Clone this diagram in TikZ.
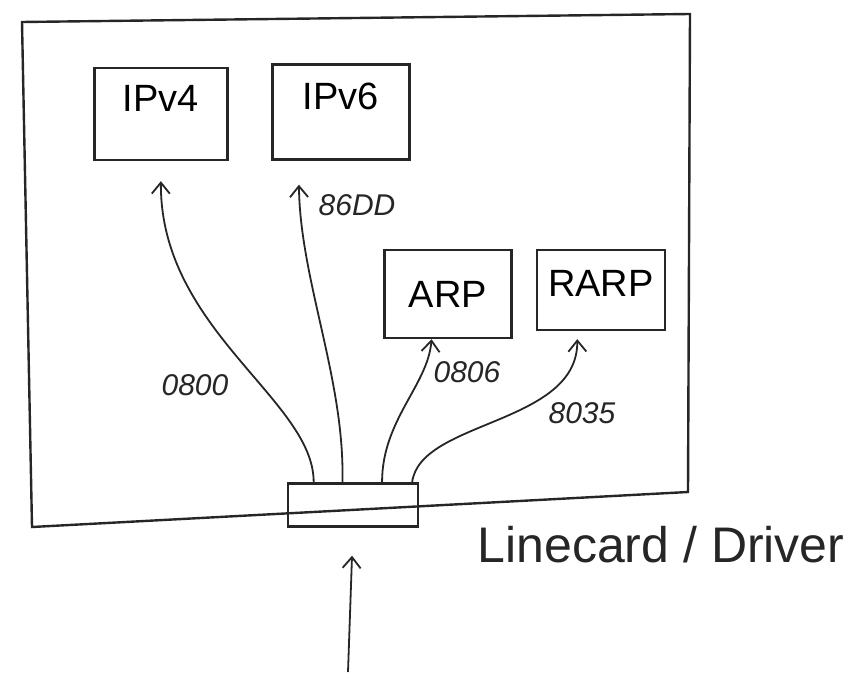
\documentclass[tikz,border=0pt]{standalone}
\usepackage{fontspec}
\setmainfont{Liberation Sans}
\usetikzlibrary{arrows.meta}
\begin{document}
\begin{tikzpicture}[x=1pt,y=-1pt,
  ink/.style={draw=black!85, line width=2.4pt},
  box/.style={ink, rectangle, font=\fontsize{38}{40}\selectfont},
  lbl/.style={font=\itshape\fontsize{30}{32}\selectfont, text=black!85},
  conn/.style={ink, line width=1.8pt, -{Straight Barb[length=11pt,width=18pt]}}]
\useasboundingbox (0,0) rectangle (868,687);
% outer frame
\draw[ink] (22,22) -- (690,14) -- (688,492) -- (32,527) -- cycle;
% protocol boxes
\node[box, minimum width=133, minimum height=92, text height=26pt, text depth=30pt] (ipv4) at (161,114) {IPv4};
\node[box, minimum width=137, minimum height=95, text height=26pt, text depth=30pt] (ipv6) at (341,112) {IPv6};
\node[box, minimum width=127, minimum height=88] (arp) at (448,294) {ARP};
\node[box, minimum width=128, minimum height=80, text height=27pt, text depth=14pt] (rarp) at (601,290) {RARP};
% linecard
\node[ink, rectangle, minimum width=130, minimum height=43] (lc) at (353,505) {};
\node[font=\fontsize{50}{52}\selectfont, text=black!85] (lctext) at (661,545) {Linecard / Driver};
% connectors
\draw[conn, shorten >=20pt] (lc.150) .. controls (314,400) and (160,330) .. (ipv4.south);
\draw[conn, shorten >=24pt] (lc.115) .. controls (345,380) and (300,280) .. (ipv6.229);
\draw[conn] (lc.38) .. controls (382,420) and (428,385) .. (arp.250);
\draw[conn, shorten >=8pt] (lc.21) .. controls (420,420) and (578,425) .. (rarp.240);
\coordinate (input) at (348,672);
\draw[conn, shorten >=28pt] (input) -- (lc.south);
% labels
\node[lbl] (l0800) at (195,385) {0800};
\node[lbl] (l86dd) at (357,205) {86DD};
\node[lbl] (l0806) at (467,372) {0806};
\node[lbl] (l8035) at (582,413) {8035};
\end{tikzpicture}
\end{document}
